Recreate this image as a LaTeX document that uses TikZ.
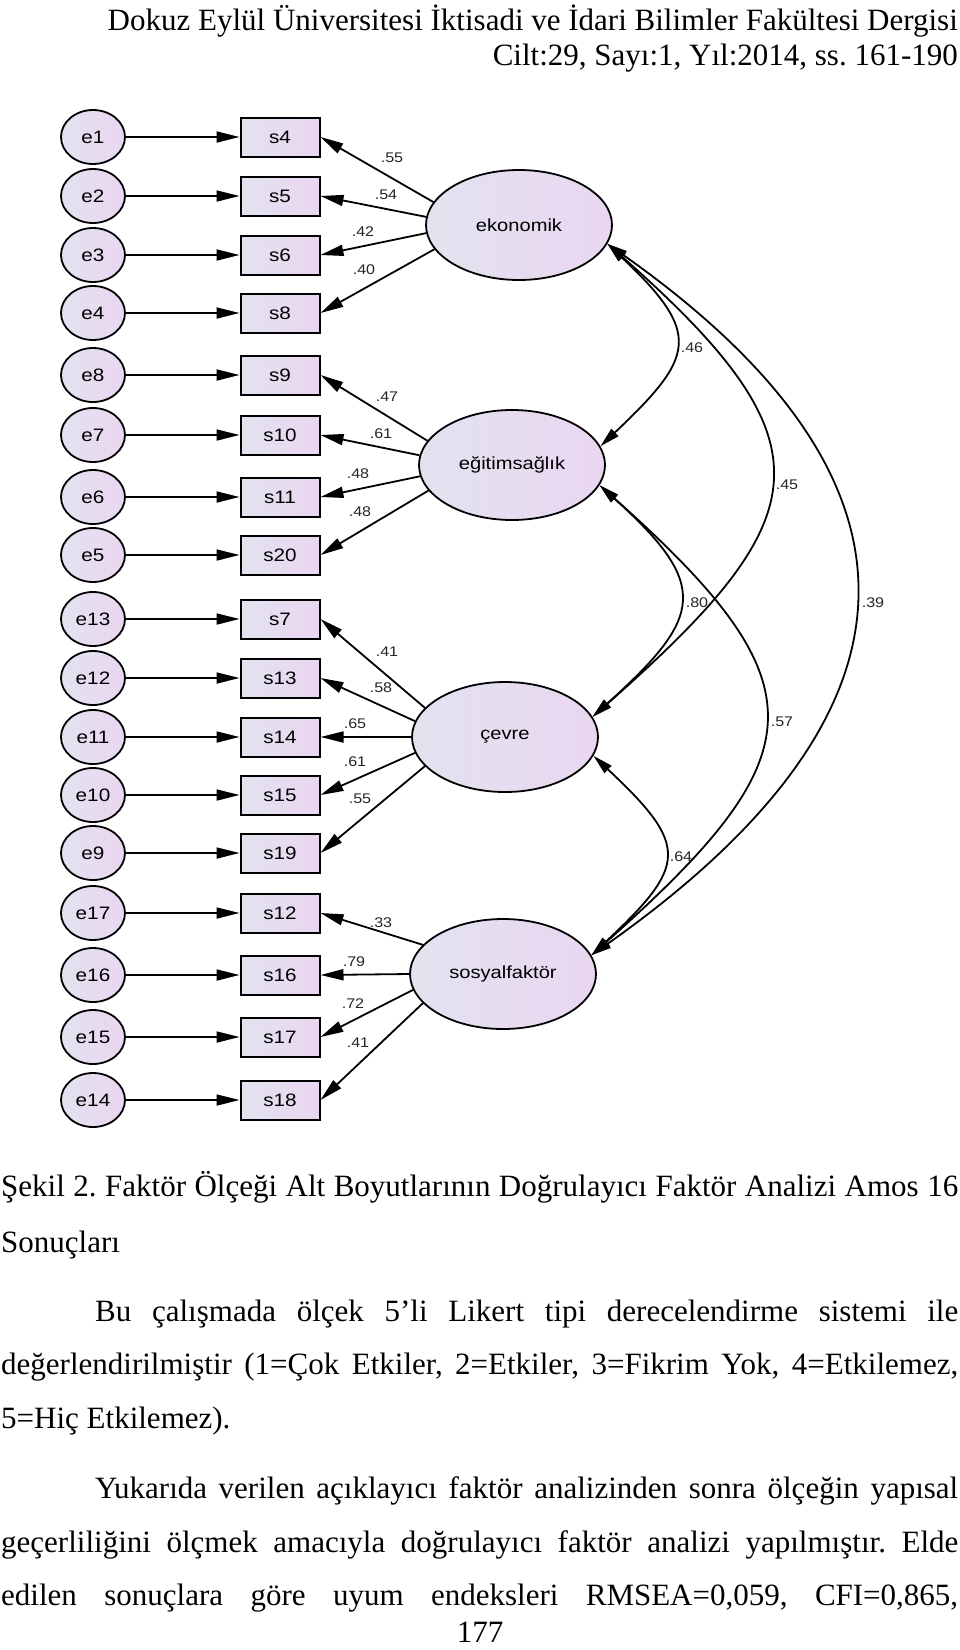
\documentclass[tikz,border=0pt]{standalone}
\usepackage{fontspec}
\setmainfont{Liberation Serif}
\newfontfamily\diagfont[FakeStretch=1.15]{Liberation Sans}
\usetikzlibrary{shapes.geometric, arrows.meta}
\frenchspacing

\definecolor{lavleft}{RGB}{226,227,239}
\definecolor{lavright}{RGB}{234,214,241}

\tikzset{
  err/.style={ellipse, draw, line width=1.8pt, left color=lavleft, right color=lavright,
    minimum width=64pt, minimum height=54pt, inner sep=0pt, font=\diagfont\fontsize{18}{18}\selectfont},
  item/.style={rectangle, draw, line width=2pt, left color=lavleft, right color=lavright,
    minimum width=79pt, minimum height=39pt, inner sep=0pt, font=\diagfont\fontsize{18}{18}\selectfont},
  factor/.style={ellipse, draw, line width=1.8pt, left color=lavleft, right color=lavright,
    minimum width=186pt, minimum height=110pt, inner sep=0pt, font=\diagfont\fontsize{17.5}{17.5}\selectfont},
  coef/.style={font=\diagfont\fontsize{14}{14}\selectfont, inner sep=0pt, text=black!85},
  reg/.style={line width=1.8pt, -{Triangle[length=23pt,width=11pt]}},
  cov/.style={line width=1.8pt, {Triangle[length=20pt,width=10pt]}-{Triangle[length=20pt,width=10pt]}},
  pagetext/.style={font=\fontsize{31}{31}\selectfont, inner sep=0pt}
}

\begin{document}
\begin{tikzpicture}[x=1pt, y=-1pt]
  \fill[white] (0,0) rectangle (960,1650);
  \useasboundingbox (0,0) rectangle (960,1650);

  % running head
  \node[pagetext, anchor=base east] (hd1) at (958,30) {Dokuz Eylül Üniversitesi İktisadi ve İdari Bilimler Fakültesi Dergisi};
  \node[pagetext, anchor=base east] (hd2) at (958,65) {Cilt:29, Sayı:1, Yıl:2014, ss. 161-190};

  % latent factors
  \node[factor] (eko) at (519,225) {ekonomik};
  \node[factor] (egi) at (512,465) {eğitimsağlık};
  \node[factor] (cev) at (505,737) {çevre};
  \node[factor] (sos) at (503,974) {sosyalfaktör};

  % error terms and items
  \foreach \err/\ind/\y in {e1/s4/137, e2/s5/196, e3/s6/255, e4/s8/313,
      e8/s9/375, e7/s10/435, e6/s11/497, e5/s20/555,
      e13/s7/619, e12/s13/678, e11/s14/737, e10/s15/795, e9/s19/853,
      e17/s12/913, e16/s16/975, e15/s17/1037, e14/s18/1100} {
    \node[err] (\err) at (93,\y) {\err};
    \node[item] (\ind) at (280,\y) {\ind};
    \draw[reg] (\err) -- (\ind);
  }

  % loadings
  \foreach \fac/\ang/\ind/\val/\lx/\ly in {eko/165/s4/.55/392/158, eko/175/s5/.54/386/195,
      eko/185/s6/.42/363/232, eko/196/s8/.40/364/270,
      egi/164/s9/.47/387/397, egi/174/s10/.61/381/434, egi/187/s11/.48/358/474, egi/197/s20/.48/360/512,
      cev/160/s7/.41/387/652, cev/170/s13/.58/381/688, cev/180/s14/.65/355/724,
      cev/190/s15/.61/355/762, cev/200/s19/.55/360/799,
      sos/160/s12/.33/381/923, sos/180/s16/.79/354/962, sos/190/s17/.72/353/1004, sos/200/s18/.41/358/1043} {
    \draw[reg] (\fac.\ang) -- (\ind.east);
    \node[coef] (c\ind) at (\lx,\ly) {\val};
  }

  % correlations
  \draw[cov] (eko.-12) .. controls +(95,90) and +(95,-90) .. (egi.12);
  \draw[cov] (eko.-12) .. controls +(227,200) and +(227,-200) .. (cev.13);
  \draw[cov] (eko.-12) .. controls +(340,240) and +(340,-240) .. (sos.12);
  \draw[cov] (egi.-13) .. controls +(111,100) and +(111,-100) .. (cev.13);
  \draw[cov] (egi.-13) .. controls +(225,200) and +(225,-200) .. (sos.12);
  \draw[cov] (cev.-12) .. controls +(96,90) and +(96,-90) .. (sos.12);
  \node[coef] (r1) at (692,348) {.46};
  \node[coef] (r2) at (787,485) {.45};
  \node[coef] (r3) at (873,603) {.39};
  \node[coef] (r4) at (697,603) {.80};
  \node[coef] (r5) at (782,722) {.57};
  \node[coef] (r6) at (681,857) {.64};

  % caption and body text
  \node[pagetext, anchor=base west] (cap1) at (1,1196) {\makebox[957pt][s]{Şekil 2. Faktör Ölçeği Alt Boyutlarının Doğrulayıcı Faktör Analizi Amos 16}};
  \node[pagetext, anchor=base west] (cap2) at (1,1252) {Sonuçları};
  \node[pagetext, anchor=base west] (pa1) at (1,1321) {\makebox[957pt][s]{\hspace{94pt}Bu çalışmada ölçek 5’li Likert tipi derecelendirme sistemi ile}};
  \node[pagetext, anchor=base west] (pa2) at (1,1374) {\makebox[957pt][s]{değerlendirilmiştir (1=Çok Etkiler, 2=Etkiler, 3=Fikrim Yok, 4=Etkilemez,}};
  \node[pagetext, anchor=base west] (pa3) at (1,1428) {5=Hiç Etkilemez).};
  \node[pagetext, anchor=base west] (pb1) at (1,1498) {\makebox[957pt][s]{\hspace{94pt}Yukarıda verilen açıklayıcı faktör analizinden sonra ölçeğin yapısal}};
  \node[pagetext, anchor=base west] (pb2) at (1,1552) {\makebox[957pt][s]{geçerliliğini ölçmek amacıyla doğrulayıcı faktör analizi yapılmıştır. Elde}};
  \node[pagetext, anchor=base west] (pb3) at (1,1605) {\makebox[957pt][s]{edilen sonuçlara göre uyum endeksleri RMSEA=0,059, CFI=0,865,}};
  \node[pagetext, anchor=base] (pg) at (480,1642) {177};
\end{tikzpicture}
\end{document}
